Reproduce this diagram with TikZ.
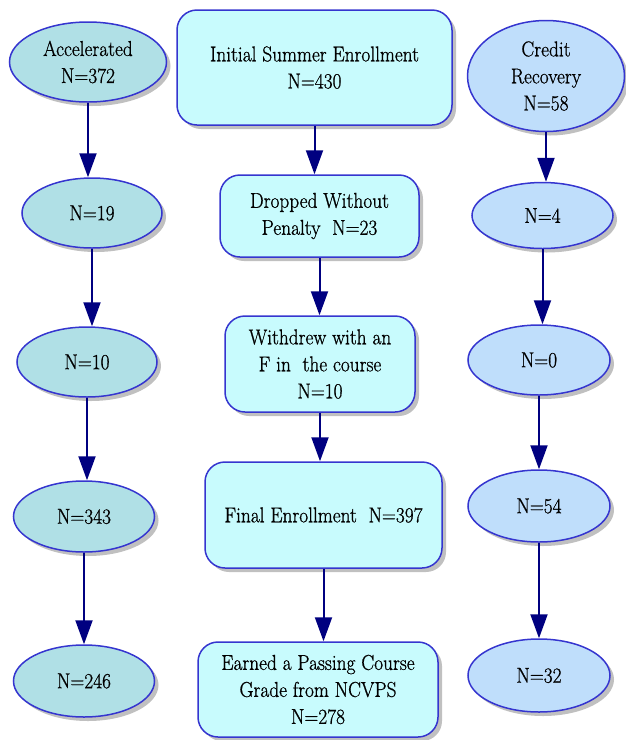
\documentclass[tikz,border=0pt]{standalone}
\usepackage{fontspec}
\newfontfamily\diagfont{Latin Modern Roman}[FakeStretch=0.9,FakeBold=0.8]
\usetikzlibrary{shapes.geometric,arrows.meta,shadows}
\definecolor{edgeblue}{HTML}{3535CF}
\definecolor{navyarrow}{HTML}{000080}
\definecolor{accfill}{HTML}{B0E0E6}
\definecolor{midfill}{HTML}{C8FBFD}
\definecolor{crfill}{HTML}{BFDEFB}
\tikzset{
  softshadow/.style={drop shadow={shadow xshift=4pt, shadow yshift=-4pt, fill=black!55, opacity=0.45}},
  labelfont/.style={font=\diagfont\fontsize{21.5}{27}\selectfont},
  oval/.style={ellipse, draw=edgeblue, line width=1.5pt, inner sep=0pt, align=center, labelfont, softshadow},
  accel/.style={oval, fill=accfill},
  credit/.style={oval, fill=crfill},
  stepbox/.style={rectangle, rounded corners=20pt, draw=edgeblue, line width=1.5pt, fill=midfill, inner sep=0pt, align=center, labelfont, softshadow},
  flow/.style={draw=navyarrow, line width=2pt, -{Triangle[length=24pt,width=17pt]}}
}
\begin{document}
\begin{tikzpicture}[x=1pt,y=-1pt]
\useasboundingbox (0,0) rectangle (625,740);
% left column
\node[accel, minimum width=157pt, minimum height=80pt] (a1) at (88,62) {Accelerated\\N=372};
\node[accel, minimum width=140pt, minimum height=70pt] (a2) at (92,213) {N=19};
\node[accel, minimum width=140pt, minimum height=70pt] (a3) at (87,362) {N=10};
\node[accel, minimum width=141pt, minimum height=71pt] (a4) at (84,516.5) {N=343};
\node[accel, minimum width=141pt, minimum height=72pt] (a5) at (84,681) {N=246};
% middle column
\node[stepbox, minimum width=275pt, minimum height=115pt] (m1) at (314.5,67.5) {Initial Summer Enrollment\\N=430};
\node[stepbox, minimum width=199pt, minimum height=82pt] (m2) at (319.5,216) {Dropped Without\\Penalty~ N=23};
\node[stepbox, minimum width=190pt, minimum height=96pt] (m3) at (320,364) {Withdrew with an\\F in~ the course\\N=10};
\node[stepbox, minimum width=237pt, minimum height=106pt] (m4) at (323.5,515) {Final Enrollment~ N=397};
\node[stepbox, minimum width=240pt, minimum height=95pt] (m5) at (318,689.5) {Earned a Passing Course\\Grade from NCVPS\\N=278};
% right column
\node[credit, minimum width=157pt, minimum height=111pt] (c1) at (546,76) {Credit\\Recovery\\N=58};
\node[credit, minimum width=141pt, minimum height=66pt] (c2) at (542.5,215.5) {N=4};
\node[credit, minimum width=142pt, minimum height=70pt] (c3) at (539,360) {N=0};
\node[credit, minimum width=142pt, minimum height=72pt] (c4) at (539,506) {N=54};
\node[credit, minimum width=142pt, minimum height=73pt] (c5) at (539,675.5) {N=32};
% connectors
\foreach \s/\t in {a1/a2,a2/a3,a3/a4,a4/a5,m1/m2,m2/m3,m3/m4,m4/m5,c1/c2,c2/c3,c3/c4,c4/c5}{
  \draw[flow] (\s.south) -- (\s.south |- \t.north);
}
\end{tikzpicture}
\end{document}
